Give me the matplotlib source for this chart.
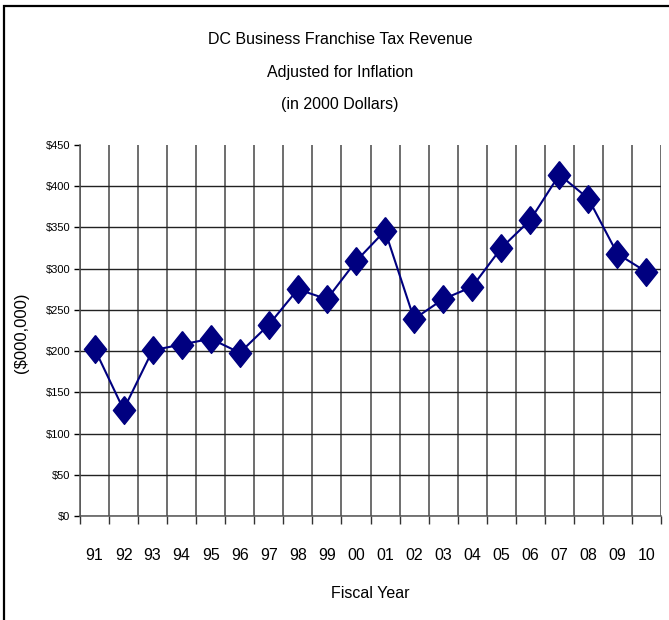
import matplotlib.pyplot as plt
import numpy as np
from matplotlib.patches import Rectangle

years = ['91', '92', '93', '94', '95', '96', '97', '98', '99', '00',
         '01', '02', '03', '04', '05', '06', '07', '08', '09', '10']
revenue = [203, 129, 201, 208, 215, 198, 232, 275, 263, 309,
           346, 239, 263, 278, 325, 359, 414, 385, 318, 296]
yticks = [0, 50, 100, 150, 200, 250, 300, 350, 400, 450]

plt.rcParams['font.family'] = ['Liberation Sans Narrow', 'Liberation Sans', 'DejaVu Sans']

W, H = 669, 620
fig = plt.figure(figsize=(W / 100, H / 100), dpi=100)

# frame round the chart (cut off at right and bottom)
fig.patches.append(Rectangle((3.5 / W, -0.1), 1.1, (620 - 6) / H + 0.1,
                             transform=fig.transFigure, fill=False,
                             edgecolor='black', linewidth=1.6))

ax = fig.add_axes([80 / W, (620 - 516) / H, (661 - 80) / W, (516 - 145) / H])

x = np.arange(len(years))
# diamond a bit taller than wide
diamond = [(0, 1.25), (1, 0), (0, -1.25), (-1, 0), (0, 1.25)]
ax.plot(x, revenue, color='#000080', linewidth=1.5, marker=diamond,
        markersize=20, markerfacecolor='#000080', markeredgecolor='#000080')

ax.set_xlim(-0.5, len(years) - 0.5)
ax.set_ylim(0, 450)

ax.set_xticks(x)
ax.set_xticklabels(years, fontsize=11.5)
ax.set_xticks(np.arange(len(years) + 1) - 0.5, minor=True)
ax.tick_params(axis='x', which='major', length=0, pad=23)
ax.tick_params(axis='x', which='minor', length=6, width=1, color='#333333')

ax.set_yticks(yticks)
ax.set_yticklabels(['$%d' % v for v in yticks], fontsize=8)
ax.tick_params(axis='y', length=4, width=1, pad=3)

ax.grid(True, which='minor', axis='x', color='#555555', linewidth=1.2)
ax.grid(True, which='major', axis='y', color='#222222', linewidth=1.0)
ax.set_axisbelow(True)
# no gridline along the top
ax.get_ygridlines()[-1].set_visible(False)

for s in ['top', 'right']:
    ax.spines[s].set_visible(False)
ax.spines['left'].set_color('#555555')
ax.spines['bottom'].set_color('#555555')
ax.spines['left'].set_linewidth(1.1)
ax.spines['bottom'].set_linewidth(1.1)

fig.text(340 / W, 1 - 40 / H, 'DC Business Franchise Tax Revenue', ha='center', va='center', fontsize=11.5)
fig.text(340 / W, 1 - 72 / H, 'Adjusted for Inflation', ha='center', va='center', fontsize=11.5)
fig.text(340 / W, 1 - 104 / H, '(in 2000 Dollars)', ha='center', va='center', fontsize=11.5)

fig.text(22 / W, 1 - 333 / H, '($000,000)', rotation=90, ha='center', va='center', fontsize=12)
fig.text(370 / W, 1 - 593 / H, 'Fiscal Year', ha='center', va='center', fontsize=11.5)

fig.savefig('out.png', dpi=100)
